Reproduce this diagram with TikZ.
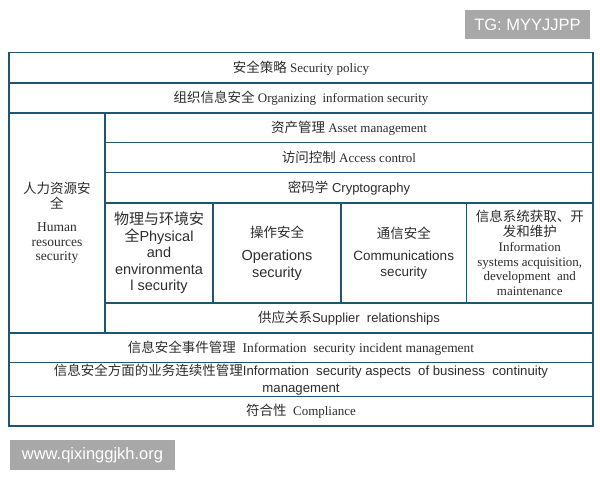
\documentclass[tikz,border=0pt]{standalone}
\usepackage{fontspec}
\setmainfont{Liberation Serif}
\newfontfamily\arialf{Liberation Sans}
\newfontfamily\cjkf{Noto Sans CJK SC}
\newcommand\zhtxt[1]{{\cjkf\fontsize{13.5}{15}\selectfont #1}}
\newcommand\zhbig[1]{{\cjkf\fontsize{15}{16.5}\selectfont #1}}
\definecolor{framec}{RGB}{28,86,112}
\definecolor{txtc}{RGB}{45,45,45}
\definecolor{wmc}{RGB}{168,168,168}
\tikzset{
  cell/.style={draw=framec, line width=1.9pt, fill=white, inner sep=0pt, align=center,
    text=txtc, anchor=center, font=\fontsize{13}{15}\selectfont},
  sanscell/.style={cell, font=\arialf\fontsize{13}{15}\selectfont},
  wmark/.style={fill=wmc, text=white, inner sep=0pt, anchor=center,
    font=\arialf\fontsize{16.5}{18}\selectfont}
}
\begin{document}
\begin{tikzpicture}[x=1pt,y=1pt]
\useasboundingbox (0,0) rectangle (600,480);
% rows spanning full width
\node[cell, minimum width=584, minimum height=30.5] (sp) at (301,412.25) {\zhtxt{安全策略} Security policy};
\node[cell, minimum width=584, minimum height=30] (org) at (301,382) {\zhtxt{组织信息安全} Organizing\ \ information security};
% human resources column
\node[cell, minimum width=96, minimum height=220, font=\fontsize{13.5}{14.8}\selectfont] (hr) at (57,257) {\zhtxt{人力资源安}\\\zhtxt{全}\\[8pt]Human\\resources\\security};
% inner rows
\node[cell, minimum width=488, minimum height=29.5] (asset) at (349,352.25) {\zhtxt{资产管理} Asset management};
\node[cell, minimum width=488, minimum height=30] (access) at (349,322.5) {\zhtxt{访问控制} Access control};
\node[sanscell, minimum width=488, minimum height=30.5] (crypto) at (349,292.25) {\zhtxt{密码学} Cryptography};
% four boxes
\node[sanscell, minimum width=108, minimum height=100, font=\arialf\fontsize{14.5}{16.5}\selectfont] (phys) at (159,227) {\zhbig{物理与环境安}\\\zhbig{全}Physical\\and\\environmenta\\l security};
\node[sanscell, minimum width=128, minimum height=100, font=\arialf\fontsize{14.5}{17}\selectfont] (ops) at (277,227) {\zhtxt{操作安全}\\[6pt]Operations\\security};
\node[sanscell, minimum width=125.5, minimum height=100, font=\arialf\fontsize{13.5}{16}\selectfont] (comm) at (403.75,227) {\zhtxt{通信安全}\\[6pt]Communications\\security};
\node[cell, minimum width=126.5, minimum height=100, font=\fontsize{13}{14.8}\selectfont] (isys) at (529.75,227) {\zhtxt{信息系统获取、开}\\\zhtxt{发和维护}\\Information\\systems acquisition,\\development\ \ and\\maintenance};
% supplier
\node[sanscell, minimum width=488, minimum height=30] (supp) at (349,162) {\zhtxt{供应关系}Supplier\ \ relationships};
% bottom rows
\node[cell, minimum width=584, minimum height=29.5, font=\fontsize{13.4}{15}\selectfont] (inc) at (301,132.25) {\zhtxt{信息安全事件管理}\ \ Information\ \ security incident management};
\node[sanscell, minimum width=584, minimum height=34, font=\arialf\fontsize{13.2}{17}\selectfont] (bc) at (301,100.5) {\zhtxt{信息安全方面的业务连续性管理}Information\ \ security aspects\ \ of business\ \ continuity\\management};
\node[cell, minimum width=584, minimum height=29.5] (comp) at (301,68.75) {\zhtxt{符合性}\ \ Compliance};
% watermarks
\node[wmark, minimum width=125, minimum height=29] (tg) at (527.5,455.5) {TG: MYYJJPP};
\node[wmark, minimum width=165, minimum height=30] (www) at (92.5,25) {www.qixinggjkh.org};
\end{tikzpicture}
\end{document}
